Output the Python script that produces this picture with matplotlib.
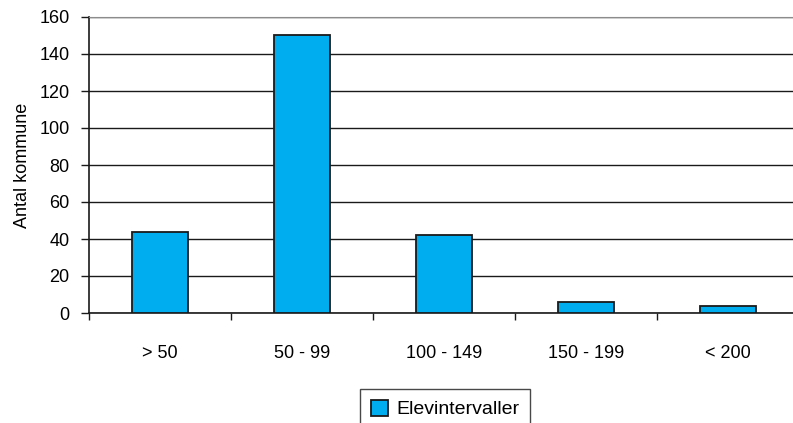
import numpy as np
import matplotlib.pyplot as plt

categories = ['> 50', '50 - 99', '100 - 149', '150 - 199', '< 200']
antal = [44, 150, 42, 6, 4]  # antal kommuner per interval

plt.rcParams['font.family'] = ['Liberation Sans Narrow', 'Liberation Sans', 'DejaVu Sans']
plt.rcParams['font.size'] = 13

fig = plt.figure(figsize=(7.93, 4.23), dpi=100)
ax = fig.add_axes([89/793, (423-313)/423, 710/793, 296/423])

x = np.arange(len(categories))
ax.bar(x, antal, width=0.4, color='#00AEEF', edgecolor='#1a1a1a', linewidth=1.3,
       label='Elevintervaller', zorder=3)

ax.set_xlim(-0.5, len(categories) - 0.5)
ax.set_ylim(0, 160)
ax.set_yticks(np.arange(0, 161, 20))
ax.yaxis.grid(True, color='#1a1a1a', linewidth=1.0, zorder=0)
ax.set_axisbelow(True)

# ticks between the categories, labels centred under the bars
ax.set_xticks(x)
ax.set_xticklabels(categories)
ax.set_xticks(np.arange(-0.5, len(categories), 1.0), minor=True)
ax.tick_params(axis='x', which='major', length=0, pad=23)
ax.tick_params(axis='x', which='minor', length=5, width=1.0, color='#1a1a1a')
ax.tick_params(axis='y', length=6, width=1.0, color='#1a1a1a', pad=8)

ax.spines['right'].set_visible(False)
ax.spines['top'].set_color('#8c8c8c')
ax.spines['left'].set_color('#1a1a1a')
ax.spines['bottom'].set_color('#1a1a1a')
ax.spines['left'].set_linewidth(1.2)
ax.spines['bottom'].set_linewidth(1.2)

ax.set_ylabel('Antal kommune', labelpad=6)

# legend sits at the bottom edge, partly cut off as in the original
leg = ax.legend(loc='upper center', bbox_to_anchor=(445/793, 1 - 389/423), bbox_transform=fig.transFigure,
                borderaxespad=0, frameon=True, fancybox=False, edgecolor='#1a1a1a',
                handlelength=0.9, handleheight=0.9, handletextpad=0.4, borderpad=0.55, fontsize=14)
leg.get_frame().set_linewidth(1.0)

fig.savefig('out.png', dpi=100)
